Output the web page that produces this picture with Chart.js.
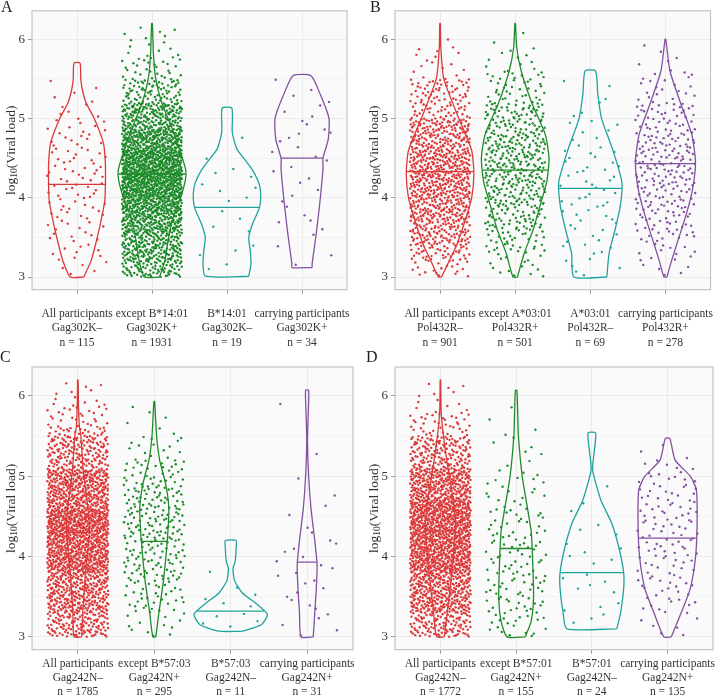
<!DOCTYPE html>
<html>
<head>
<meta charset="utf-8">
<script src="https://cdn.jsdelivr.net/npm/chart.js@4.4.1/dist/chart.umd.min.js"></script>
<style>
  body { margin: 0; background: #fff; }
  .panel { position: absolute; width: 364px; height: 349px; }
</style>
</head>
<body>
<div class="panel" style="left:0;top:0"><canvas id="chartA" width="364" height="349"></canvas></div>
<div class="panel" style="left:364px;top:0"><canvas id="chartB" width="364" height="349"></canvas></div>
<div class="panel" style="left:0;top:349px"><canvas id="chartC" width="364" height="349"></canvas></div>
<div class="panel" style="left:364px;top:349px"><canvas id="chartD" width="364" height="349"></canvas></div>
<script>
// ---- data ----
const groupColours = ['#DC3A3A', '#1E8B2A', '#1FA39C', '#8450A0'];
const yTicks = [3, 3.5, 4, 4.5, 5, 5.5, 6];

// panel A
const groupsA = ['All participants', 'except B*14:01', 'B*14:01', 'carrying participants'];
const mutationA = ['Gag302K–', 'Gag302K+', 'Gag302K–', 'Gag302K+'];
const countsA = [115, 1931, 19, 34];
const mediansA = [4.17, 4.30, 3.88, 4.50];
// violin outlines: [log10 viral load, half width]
const violinA1 = [[3.0,0.09],[3.21,0.19],[3.46,0.26],[3.71,0.32],[3.96,0.37],[4.25,0.38],[4.5,0.375],[4.7,0.35],[5.0,0.23],[5.2,0.12],[5.37,0.07],[5.5,0.05],[5.7,0.04]];
const violinA2 = [[3.0,0.1],[3.2,0.17],[3.55,0.23],[3.8,0.3],[4.0,0.38],[4.2,0.44],[4.35,0.45],[4.6,0.37],[4.87,0.27],[5.2,0.13],[5.5,0.05],[5.8,0.02],[6.2,0.005]];
const violinA3 = [[3.01,0.29],[3.17,0.32],[3.33,0.31],[3.5,0.29],[3.67,0.34],[3.87,0.43],[4.0,0.45],[4.17,0.43],[4.35,0.34],[4.49,0.23],[4.62,0.13],[4.83,0.07],[5.13,0.065]];
const violinA4 = [[3.12,0.135],[3.17,0.135],[3.55,0.19],[3.96,0.24],[4.37,0.28],[4.5,0.28],[4.74,0.35],[5.0,0.36],[5.29,0.25],[5.54,0.12]];

// panel B
const groupsB = ['All participants', 'except A*03:01', 'A*03:01', 'carrying participants'];
const mutationB = ['Pol432R–', 'Pol432R+', 'Pol432R–', 'Pol432R+'];
const countsB = [901, 501, 69, 278];
const mediansB = [4.33, 4.35, 4.12, 4.43];
const violinB1 = [[3.0,0.02],[3.2,0.12],[3.4,0.22],[3.7,0.33],[4.0,0.42],[4.3,0.45],[4.6,0.42],[5.0,0.25],[5.5,0.05],[5.9,0.01],[6.2,0.004]];
const violinB2 = [[3.0,0.03],[3.3,0.12],[3.6,0.24],[3.9,0.33],[4.2,0.42],[4.5,0.45],[4.8,0.4],[5.2,0.22],[5.6,0.08],[5.9,0.02],[6.2,0.004]];
const violinB3 = [[3.0,0.22],[3.3,0.25],[3.6,0.33],[3.9,0.4],[4.2,0.42],[4.6,0.3],[5.0,0.15],[5.3,0.1],[5.6,0.07]];
const violinB4 = [[3.0,0.02],[3.2,0.08],[3.5,0.18],[3.8,0.28],[4.1,0.36],[4.45,0.4],[4.8,0.35],[5.2,0.2],[5.6,0.06],[6.0,0.005]];

// panel C
const groupsC = ['All participants', 'except B*57:03', 'B*57:03', 'carrying participants'];
const mutationC = ['Gag242N–', 'Gag242N+', 'Gag242N–', 'Gag242N+'];
const countsC = [1785, 295, 11, 31];
const mediansC = [4.30, 4.19, 3.32, 3.93];
const violinC1 = [[3.0,0.05],[3.3,0.065],[3.8,0.1],[4.3,0.15],[4.58,0.135],[5.08,0.07],[5.5,0.04],[5.62,0.02],[5.9,0.008],[6.2,0.003]];
const violinC2 = [[3.0,0.02],[3.3,0.06],[3.7,0.12],[4.2,0.17],[4.6,0.19],[4.9,0.15],[5.2,0.07],[5.5,0.03],[5.93,0.005]];
const violinC3 = [[3.07,0.15],[3.15,0.4],[3.28,0.48],[3.4,0.35],[3.55,0.15],[3.7,0.05],[3.85,0.03],[3.95,0.06],[4.1,0.07],[4.2,0.07]];
const violinC4 = [[3.0,0.08],[3.3,0.1],[3.6,0.12],[3.9,0.13],[4.2,0.1],[4.6,0.05],[5.0,0.02],[5.45,0.005],[5.8,0.015],[6.07,0.02]];

// panel D
const groupsD = ['All participants', 'except B*57:01', 'B*57:01', 'carrying participants'];
const mutationD = ['Gag242N–', 'Gag242N+', 'Gag242N–', 'Gag242N+'];
const countsD = [1772, 155, 24, 135];
const mediansD = [4.32, 4.10, 3.80, 4.23];
const violinD1 = [[3.0,0.05],[3.3,0.09],[3.8,0.15],[4.35,0.2],[4.7,0.17],[5.1,0.1],[5.5,0.04],[5.8,0.01],[6.2,0.003]];
const violinD2 = [[3.0,0.12],[3.2,0.2],[3.5,0.23],[3.9,0.22],[4.3,0.2],[4.6,0.15],[5.0,0.08],[5.5,0.03],[5.8,0.02],[6.07,0.01]];
const violinD3 = [[3.1,0.33],[3.3,0.38],[3.6,0.42],[3.8,0.42],[4.1,0.36],[4.42,0.26],[4.7,0.12],[5.08,0.01],[5.3,0.03],[5.54,0.05]];
const violinD4 = [[3.0,0.05],[3.3,0.18],[3.6,0.3],[4.0,0.37],[4.42,0.39],[4.83,0.38],[5.0,0.3],[5.2,0.1],[5.47,0.03]];

const JITTER = 0.4;
const FONT = '"Liberation Serif", "DejaVu Serif", serif';

// dot cloud: y positions follow the violin's density (quantiles), x is jittered
function halton(i, b) {
  let f = 1, r = 0;
  while (i > 0) { f /= b; r += f * (i % b); i = Math.floor(i / b); }
  return r;
}
function makeQuantile(prof) {
  const cum = [0];
  for (let k = 1; k < prof.length; k++) {
    cum.push(cum[k - 1] + (prof[k][0] - prof[k - 1][0]) * (prof[k][1] + prof[k - 1][1]) / 2);
  }
  const total = cum[cum.length - 1];
  return p => {
    const t = p * total;
    let k = 1;
    while (k < cum.length - 1 && cum[k] < t) k++;
    const f = (t - cum[k - 1]) / (cum[k] - cum[k - 1] || 1);
    return prof[k - 1][0] + f * (prof[k][0] - prof[k - 1][0]);
  };
}
function widthAt(prof, y) {
  for (let k = 1; k < prof.length; k++) {
    if (y <= prof[k][0]) {
      const f = (y - prof[k - 1][0]) / (prof[k][0] - prof[k - 1][0]);
      return prof[k - 1][1] + f * (prof[k][1] - prof[k - 1][1]);
    }
  }
  return prof[prof.length - 1][1];
}

function buildDatasets(violins, medians, counts) {
  const ds = [];
  violins.forEach((prof, gi) => {
    const cx = gi + 1, col = groupColours[gi];
    const q = makeQuantile(prof);
    const pts = [];
    for (let i = 0; i < counts[gi]; i++) {
      const k = i + 1 + gi * 17;
      pts.push({ x: cx + (halton(k, 3) * 2 - 1) * JITTER, y: q(halton(k, 2)) });
    }
    ds.push({ data: pts, backgroundColor: col, borderWidth: 0, pointRadius: 1.2, order: 3 });

    const outline = prof.map(([y, w]) => ({ x: cx + w, y }))
      .concat(prof.slice().reverse().map(([y, w]) => ({ x: cx - w, y })));
    outline.push(outline[0]);
    ds.push({ data: outline, showLine: true, borderColor: col, borderWidth: 1.3, pointRadius: 0, tension: 0.2, order: 1 });

    const hw = widthAt(prof, medians[gi]);
    ds.push({ data: [{ x: cx - hw, y: medians[gi] }, { x: cx + hw, y: medians[gi] }],
      showLine: true, borderColor: col, borderWidth: 1.3, pointRadius: 0, order: 1 });
  });
  return ds;
}

const panelDecor = {
  id: 'panelDecor',
  beforeDraw(chart) {
    const { ctx, chartArea: a } = chart;
    ctx.save();
    ctx.fillStyle = '#FAFAFA';
    ctx.fillRect(a.left, a.top, a.right - a.left, a.bottom - a.top);
    ctx.restore();
  },
  afterDraw(chart, args, opts) {
    const { ctx, chartArea: a } = chart;
    ctx.save();
    ctx.strokeStyle = '#C4C4C4';
    ctx.lineWidth = 1.2;
    ctx.strokeRect(a.left, a.top, a.right - a.left, a.bottom - a.top);

    ctx.fillStyle = '#222';
    ctx.font = '16px ' + FONT;
    ctx.textBaseline = 'top';
    ctx.fillText(opts.letter, opts.letterX, opts.letterY);

    // y title with subscript
    ctx.translate(opts.titleX, (a.top + a.bottom) / 2);
    ctx.rotate(-Math.PI / 2);
    ctx.fillStyle = '#333';
    ctx.textBaseline = 'middle';
    const big = '13.5px ' + FONT, small = '9.5px ' + FONT;
    ctx.font = big; const w1 = ctx.measureText('log').width, w3 = ctx.measureText('(Viral load)').width;
    ctx.font = small; const w2 = ctx.measureText('10').width;
    let x = -(w1 + w2 + w3) / 2;
    ctx.font = big; ctx.fillText('log', x, 0); x += w1;
    ctx.font = small; ctx.fillText('10', x, 3); x += w2;
    ctx.font = big; ctx.fillText('(Viral load)', x, 0);
    ctx.restore();
  }
};

function makePanel(id, violins, medians, counts, groups, mutation, lay) {
  const tickLabels = groups.map((g, i) => [g, mutation[i], 'n = ' + counts[i]]);
  return new Chart(document.getElementById(id), {
    type: 'scatter',
    data: { datasets: buildDatasets(violins, medians, counts) },
    options: {
      responsive: false,
      animation: false,
      layout: { padding: { top: lay.top, right: lay.right, left: 0, bottom: 0 } },
      plugins: {
        legend: { display: false },
        tooltip: { enabled: false },
        panelDecor: lay.decor
      },
      scales: {
        x: {
          type: 'linear', min: 0.4, max: 4.6,
          afterBuildTicks: s => { s.ticks = [1, 2, 3, 4].map(v => ({ value: v })); },
          afterFit: s => { s.height = lay.xHeight; },
          ticks: {
            autoSkip: false, maxRotation: 0, padding: lay.xPad, color: '#333',
            font: { family: FONT, size: 11.5, lineHeight: lay.lineH },
            callback: (v, i) => tickLabels[i]
          },
          grid: { color: '#EBEBEB', tickColor: '#999', tickLength: 4 },
          border: { display: false }
        },
        y: {
          min: 2.84, max: 6.36,
          afterBuildTicks: s => { s.ticks = yTicks.map(v => ({ value: v })); },
          afterFit: s => { s.width = lay.yWidth; },
          ticks: {
            padding: 3, color: '#333',
            font: { family: FONT, size: 13 },
            callback: v => Number.isInteger(v) ? String(v) : ''
          },
          grid: {
            color: '#EBEBEB',
            lineWidth: c => Number.isInteger(c.tick.value) ? 1 : 0.6,
            tickColor: c => Number.isInteger(c.tick.value) ? '#999' : 'rgba(0,0,0,0)',
            tickLength: 4
          },
          border: { display: false }
        }
      }
    },
    plugins: [panelDecor]
  });
}

makePanel('chartA', [violinA1, violinA2, violinA3, violinA4], mediansA, countsA, groupsA, mutationA,
  { top: 7, right: 11, yWidth: 32, xHeight: 59.3, xPad: 13, lineH: 1.26, decor: { letter: 'A', letterX: 1, letterY: 0, titleX: 11 } });
makePanel('chartB', [violinB1, violinB2, violinB3, violinB4], mediansB, countsB, groupsB, mutationB,
  { top: 7, right: 15, yWidth: 31, xHeight: 59.3, xPad: 13, lineH: 1.26, decor: { letter: 'B', letterX: 6, letterY: 0, titleX: 10 } });
makePanel('chartC', [violinC1, violinC2, violinC3, violinC4], mediansC, countsC, groupsC, mutationC,
  { top: 18, right: 11, yWidth: 32, xHeight: 48.3, xPad: 3, lineH: 1.22, decor: { letter: 'C', letterX: 0, letterY: 1, titleX: 11 } });
makePanel('chartD', [violinD1, violinD2, violinD3, violinD4], mediansD, countsD, groupsD, mutationD,
  { top: 18, right: 15, yWidth: 31, xHeight: 48.3, xPad: 3, lineH: 1.22, decor: { letter: 'D', letterX: 2, letterY: 1, titleX: 10 } });
</script>
</body>
</html>
